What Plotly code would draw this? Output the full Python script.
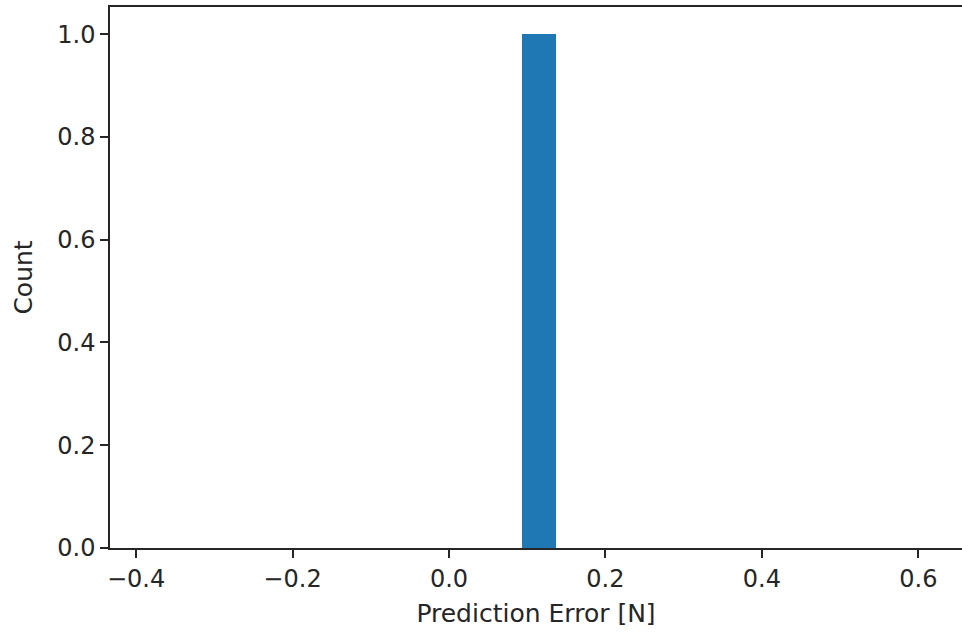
import plotly.graph_objects as go

# Data
errors = [0.115]
bin_start = -0.385
bin_end = 0.615
bin_size = 1 / 23
x_tickvals = [-0.4, -0.2, 0.0, 0.2, 0.4, 0.6]
x_ticktext = ["\u22120.4", "\u22120.2", "0.0", "0.2", "0.4", "0.6"]
y_tickvals = [0.0, 0.2, 0.4, 0.6, 0.8, 1.0]
y_ticktext = ["0.0", "0.2", "0.4", "0.6", "0.8", "1.0"]

fig = go.Figure()
fig.add_trace(go.Histogram(
    x=errors,
    xbins=dict(start=bin_start, end=bin_end, size=bin_size),
    marker=dict(color="#1f77b4", line=dict(width=0)),
    showlegend=False,
))

font = dict(family="DejaVu Sans", size=25, color="#262626")
tick_font = dict(family="DejaVu Sans", size=24, color="#262626")
fig.update_layout(
    width=962, height=632,
    margin=dict(l=110, r=0, t=7, b=84),
    plot_bgcolor="white", paper_bgcolor="white",
    bargap=0,
    font=font,
)
fig.update_xaxes(
    range=[-0.4333, 0.6558],
    tickvals=x_tickvals, ticktext=x_ticktext,
    ticks="outside", ticklen=8, tickwidth=1.5, tickcolor="#262626",
    showline=True, linecolor="#262626", linewidth=1.5, mirror=True,
    showgrid=False, zeroline=False,
    tickfont=tick_font,
    title=dict(text="Prediction Error [N]", font=font, standoff=13),
)
fig.update_yaxes(
    range=[0, 1.053],
    tickvals=y_tickvals, ticktext=y_ticktext,
    ticks="outside", ticklen=8, tickwidth=1.5, tickcolor="#262626",
    showline=True, linecolor="#262626", linewidth=1.5, mirror=False,
    showgrid=False, zeroline=False,
    tickfont=tick_font,
    title=dict(text="Count", font=font, standoff=18),
)

fig.write_html(
    "out.html",
    config={"displayModeBar": False},
    post_script="document.body.style.margin='0';document.body.style.overflow='hidden';",
)
